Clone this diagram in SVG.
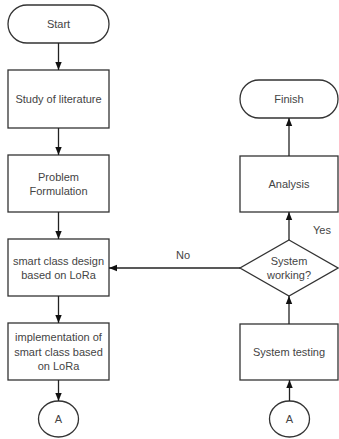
<svg xmlns="http://www.w3.org/2000/svg" width="339" height="439" viewBox="0 0 339 439">
<defs>
<marker id="ah" markerWidth="8" markerHeight="8" refX="8" refY="4" orient="auto" markerUnits="userSpaceOnUse"><path d="M0,0.8 L8,4 L0,7.2 Z" fill="#111"/></marker>
<style>
.s{fill:#fff;stroke:#333;stroke-width:1.3}
.t{font-family:"Liberation Sans",Arial,sans-serif;font-size:11px;fill:#444;text-anchor:middle}
.c{fill:none;stroke:#222;stroke-width:1.3;marker-end:url(#ah)}
</style>
</defs>
<rect width="339" height="439" fill="#fff"/>
<g id="start"><rect class="s" x="8" y="5" width="101" height="38" rx="19"/><text class="t" x="58.5" y="28">Start</text></g>
<g id="study"><rect class="s" x="8" y="70" width="101" height="58"/><text class="t" x="58.5" y="103">Study of literature</text></g>
<g id="problem"><rect class="s" x="8" y="155" width="101" height="57"/><text class="t" x="58.5" y="181">Problem</text><text class="t" x="58.5" y="194.5">Formulation</text></g>
<g id="design"><rect class="s" x="8" y="239" width="101" height="57"/><text class="t" x="58.5" y="265">smart class design</text><text class="t" x="58.5" y="278.5">based on LoRa</text></g>
<g id="impl"><rect class="s" x="8" y="323" width="101" height="57"/><text class="t" x="58.5" y="341">implementation of</text><text class="t" x="58.5" y="355.5">smart class based</text><text class="t" x="58.5" y="370">on LoRa</text></g>
<g id="a1"><ellipse class="s" cx="58.5" cy="419" rx="20" ry="18"/><text class="t" x="58.5" y="423">A</text></g>
<g id="finish"><rect class="s" x="240" y="80" width="98" height="38" rx="19"/><text class="t" x="289" y="103">Finish</text></g>
<g id="analysis"><rect class="s" x="240" y="156" width="98" height="56"/><text class="t" x="289" y="188">Analysis</text></g>
<g id="decision"><polygon class="s" points="289,240 338,268 289,296 240,268"/><text class="t" x="289" y="265">System</text><text class="t" x="289" y="278.5">working?</text></g>
<g id="testing"><rect class="s" x="240" y="324" width="98" height="56"/><text class="t" x="289" y="356">System testing</text></g>
<g id="a2"><ellipse class="s" cx="289.5" cy="419" rx="20" ry="18"/><text class="t" x="289.5" y="423">A</text></g>
<g id="connectors">
<path class="c" d="M58.5,43 V70"/>
<path class="c" d="M58.5,128 V155"/>
<path class="c" d="M58.5,212 V239"/>
<path class="c" d="M58.5,296 V323"/>
<path class="c" d="M58.5,380 V401"/>
<path class="c" d="M240,268 H109"/>
<path class="c" d="M289.5,401 V380"/>
<path class="c" d="M289,324 V296"/>
<path class="c" d="M289,240 V212"/>
<path class="c" d="M289,156 V118"/>
<text class="t" x="183" y="259">No</text>
<text class="t" x="322" y="234">Yes</text>
</g>
</svg>
